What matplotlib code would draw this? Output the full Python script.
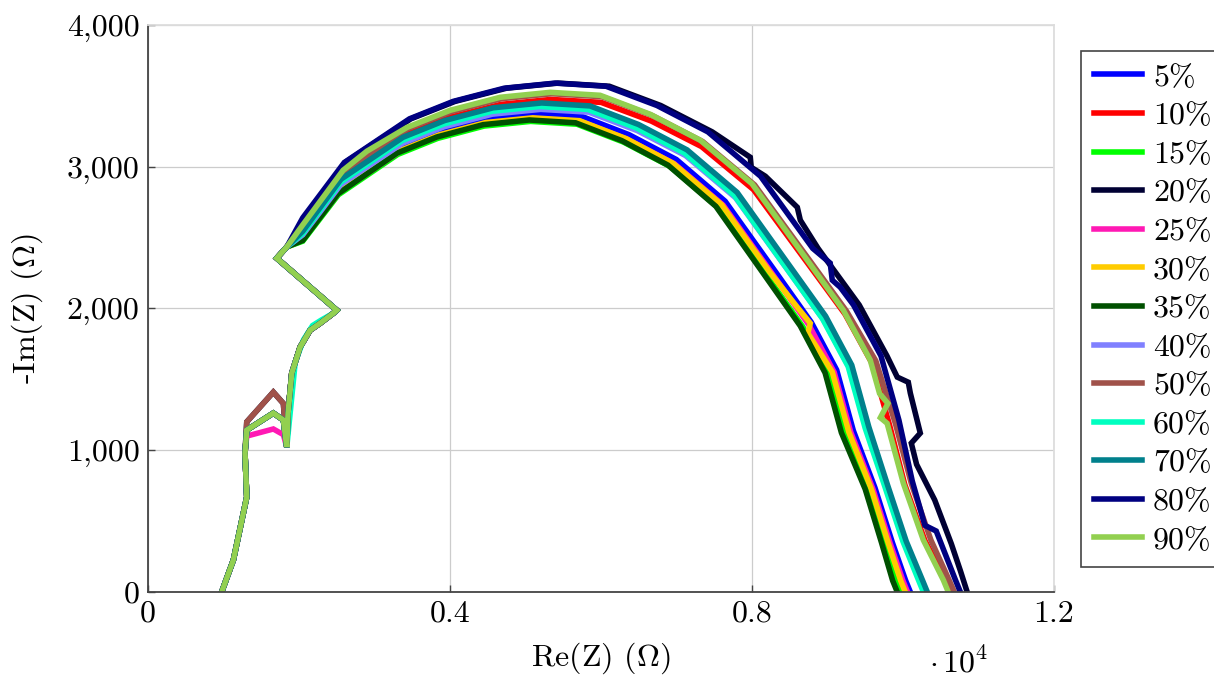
import matplotlib
matplotlib.use("Agg")
import matplotlib.pyplot as plt
from matplotlib.ticker import FixedLocator, FixedFormatter

plt.rcParams['font.family'] = 'cmr10'
plt.rcParams['mathtext.fontset'] = 'cm'
plt.rcParams['axes.formatter.use_mathtext'] = True

labels = ['5%', '10%', '15%', '20%', '25%', '30%', '35%', '40%', '50%', '60%', '70%', '80%', '90%']
colors = ['#0000ff', '#ff0000', '#00ff00', '#000033', '#ff19b4', '#ffcc00', '#005000',
          '#8080ff', '#a0524a', '#00ffc0', '#00808c', '#000080', '#92d050']

# high frequency part, almost the same for every sample
hf_re = [976, 1131, 1263, 1308, 1285, 1308, 1660, 1793, 1838, 1855, 1904, 2014, 2147, 2280, 2456, 2500, 1705, 1838]
hf_im = [0, 226, 557, 670, 980, 1142, 1262, 1213, 1022, 1262, 1544, 1727, 1847, 1896, 1967, 1988, 2355, 2434]
hf_im_low = [0, 226, 557, 670, 980, 1100, 1150, 1110, 1022, 1262, 1544, 1727, 1847, 1896, 1967, 1988, 2355, 2434]
hf_im_high = [0, 226, 557, 670, 980, 1200, 1410, 1330, 1022, 1262, 1544, 1727, 1847, 1896, 1967, 1988, 2355, 2434]
hf_re_60 = [976, 1131, 1263, 1308, 1285, 1308, 1660, 1793, 1838, 1890, 1950, 2060, 2180, 2300, 2456, 2500, 1705, 1838]
hf_im_60 = [0, 226, 557, 670, 980, 1142, 1262, 1213, 1022, 1300, 1620, 1780, 1880, 1920, 1967, 1988, 2355, 2434]

# arcs, one per sample
re_05 = [2050, 2534, 3334, 3871, 4497, 5122, 5747, 6372, 6998, 7644, 8285, 8785, 9122, 9342, 9629, 9858, 10035, 10097]
im_05 = [2500, 2848, 3138, 3253, 3341, 3375, 3355, 3226, 3051, 2757, 2279, 1903, 1566, 1139, 735, 351, 81, 0]

re_10 = [2050, 2587, 3437, 4008, 4673, 5338, 6002, 6667, 7332, 8019, 8700, 9232, 9590, 9824, 10024, 10291, 10561, 10627]
im_10 = [2560, 2933, 3231, 3350, 3440, 3475, 3454, 3322, 3142, 2839, 2346, 1960, 1613, 1173, 757, 362, 84, 0]

re_15 = [2050, 2521, 3308, 3836, 4452, 5068, 5682, 6298, 6914, 7550, 8180, 8672, 9004, 9221, 9529, 9740, 9902, 9964]
im_15 = [2475, 2802, 3087, 3200, 3287, 3320, 3300, 3174, 3002, 2712, 2241, 1872, 1541, 1121, 723, 346, 80, 0]

re_20 = [2050, 2609, 3481, 4066, 4747, 5429, 6110, 6791, 7473, 7977, 7990, 8177, 8600, 8640, 8875, 9420,
         9787, 9924, 10070, 10097, 10229, 10110, 10180, 10420, 10640, 10760, 10850]
im_20 = [2600, 3030, 3338, 3461, 3554, 3590, 3568, 3432, 3246, 3067, 2996, 2933, 2714, 2623, 2424, 2025,
         1666, 1516, 1480, 1403, 1121, 1050, 900, 649, 340, 150, 0]

re_25 = [2050, 2530, 3327, 3861, 4484, 5107, 5729, 6351, 6974, 7618, 8255, 8753, 9089, 9308, 9601, 9827, 9998, 10060]
im_25 = [2490, 2819, 3106, 3220, 3307, 3340, 3320, 3193, 3020, 2729, 2255, 1884, 1550, 1128, 728, 348, 81, 0]

re_30 = [2050, 2527, 3321, 3854, 4474, 5095, 5715, 6335, 6956, 7597, 8232, 8600, 8772, 8740, 9063, 9282, 9579, 9803, 9969, 10030]
im_30 = [2490, 2823, 3111, 3225, 3312, 3345, 3325, 3198, 3024, 2733, 2259, 2009, 1896, 1826, 1553, 1129, 729, 348, 81, 0]

re_35 = [2050, 2517, 3300, 3826, 4439, 5051, 5663, 6276, 6888, 7521, 8149, 8638, 8968, 9184, 9499, 9716, 9863, 9924]
im_35 = [2480, 2810, 3097, 3210, 3297, 3330, 3310, 3184, 3011, 2721, 2248, 1878, 1546, 1124, 726, 347, 80, 0]

re_40 = [2050, 2553, 3372, 3921, 4561, 5201, 5840, 6480, 7120, 7781, 8436, 8948, 9292, 9518, 9773, 10016, 10227, 10290]
im_40 = [2520, 2874, 3166, 3282, 3371, 3405, 3385, 3255, 3079, 2782, 2299, 1920, 1580, 1150, 742, 355, 82, 0]

re_50 = [2050, 2589, 3442, 4014, 4681, 5347, 6013, 6680, 7346, 8035, 8718, 9251, 9640, 9900, 10110, 10370, 10610, 10680]
im_50 = [2585, 2967, 3269, 3388, 3480, 3515, 3494, 3361, 3178, 2872, 2373, 1982, 1631, 1187, 766, 366, 85, 0]

re_60 = [2050, 2551, 3368, 3916, 4554, 5192, 5830, 6468, 7107, 7766, 8420, 8930, 9274, 9499, 9758, 9999, 10206, 10270]
im_60 = [2530, 2891, 3185, 3301, 3391, 3425, 3404, 3274, 3096, 2798, 2312, 1931, 1590, 1156, 746, 357, 83, 0]

re_70 = [2050, 2556, 3378, 3929, 4572, 5214, 5855, 6497, 7140, 7803, 8461, 8975, 9321, 9547, 9797, 10042, 10258, 10322]
im_70 = [2545, 2912, 3208, 3326, 3416, 3450, 3429, 3298, 3119, 2819, 2329, 1946, 1601, 1165, 752, 359, 83, 0]

re_80 = [2050, 2600, 3463, 4042, 4717, 5392, 6066, 6741, 7416, 8113, 8805, 9036, 9063, 9169, 9344, 9708,
         9946, 10123, 10290, 10440, 10693, 10760]
im_80 = [2640, 3030, 3338, 3461, 3554, 3590, 3568, 3432, 3246, 2933, 2424, 2320, 2200, 2150, 2025, 1666,
         1212, 782, 470, 430, 87, 0]

re_90 = [2050, 2584, 2900, 3432, 4001, 4664, 5327, 5989, 6652, 7315, 8000, 8679, 9209, 9566, 9690, 9800,
         9700, 9790, 10004, 10269, 10534, 10600]
im_90 = [2590, 2975, 3110, 3278, 3398, 3490, 3525, 3504, 3370, 3187, 2880, 2380, 1988, 1636, 1400, 1330,
         1230, 1190, 768, 367, 85, 0]

arcs = [(re_05, im_05, hf_re, hf_im), (re_10, im_10, hf_re, hf_im), (re_15, im_15, hf_re, hf_im),
        (re_20, im_20, hf_re, hf_im_high), (re_25, im_25, hf_re, hf_im_low), (re_30, im_30, hf_re, hf_im),
        (re_35, im_35, hf_re, hf_im), (re_40, im_40, hf_re, hf_im), (re_50, im_50, hf_re, hf_im_high),
        (re_60, im_60, hf_re_60, hf_im_60), (re_70, im_70, hf_re, hf_im), (re_80, im_80, hf_re, hf_im),
        (re_90, im_90, hf_re, hf_im)]

fig = plt.figure(figsize=(12.14, 6.79), dpi=100)
ax = fig.add_axes([148 / 1214, 1 - 592 / 679, 906 / 1214, 567 / 679])

for lab, col, (re, im, hre, him) in zip(labels, colors, arcs):
    ax.plot(hre + re, him + im, color=col, lw=4, label=lab, solid_joinstyle='miter')

ax.set_xlim(0, 12000)
ax.set_ylim(0, 4000)
ax.xaxis.set_major_locator(FixedLocator([0, 4000, 8000, 12000]))
ax.xaxis.set_major_formatter(FixedFormatter(['0', '0.4', '0.8', '1.2']))
ax.yaxis.set_major_locator(FixedLocator([0, 1000, 2000, 3000, 4000]))
ax.yaxis.set_major_formatter(FixedFormatter(['0', '1,000', '2,000', '3,000', '4,000']))
ax.tick_params(direction='in', length=5, width=1, color='#444444', labelsize=23, pad=6)
ax.grid(True, color='#cccccc', lw=0.9)

for s in ['left', 'bottom']:
    ax.spines[s].set_color('#444444')
    ax.spines[s].set_linewidth(1.3)
for s in ['top', 'right']:
    ax.spines[s].set_color('#dddddd')
    ax.spines[s].set_linewidth(1.3)

ax.set_xlabel(r'Re(Z) ($\Omega$)', fontsize=23, labelpad=9)
ax.set_ylabel(r'-Im(Z) ($\Omega$)', fontsize=23, labelpad=16)
ax.text(0.895, -0.125, r'$\cdot\,10^4$', transform=ax.transAxes, fontsize=23, ha='center', va='center')

leg = ax.legend(loc='upper left', bbox_to_anchor=(1.03, 0.955), frameon=True, fancybox=False,
                edgecolor='#444444', framealpha=1, fontsize=23, handlelength=1.5,
                handletextpad=0.35, labelspacing=0.32, borderpad=0.4, borderaxespad=0)
leg.get_frame().set_linewidth(1.2)
for line in leg.get_lines():
    line.set_linewidth(4)

fig.savefig('out.png', dpi=100)
